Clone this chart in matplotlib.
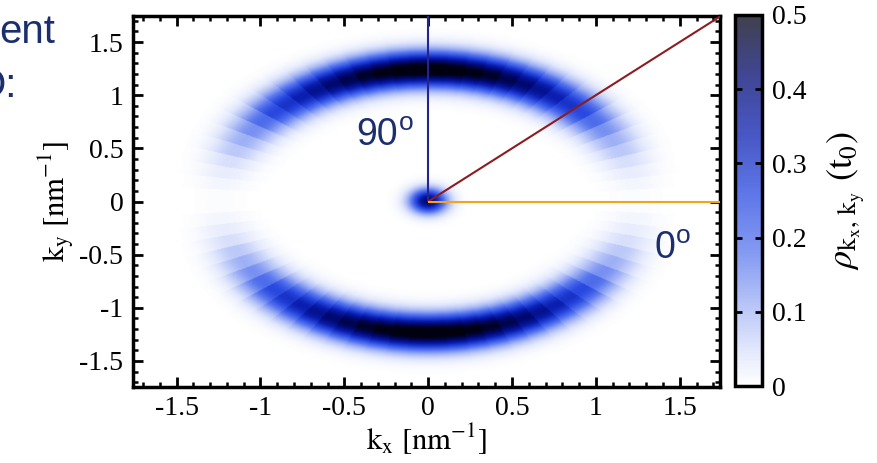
import numpy as np
import matplotlib
matplotlib.use("Agg")
import matplotlib.pyplot as plt
from matplotlib.colors import LinearSegmentedColormap, Normalize
from matplotlib.ticker import MultipleLocator

# --- axis ticks -------------------------------------------------------------
kx_ticks = [-1.5, -1, -0.5, 0, 0.5, 1, 1.5]
ky_ticks = [-1.5, -1, -0.5, 0, 0.5, 1, 1.5]
kx_tick_labels = ["-1.5", "-1", "-0.5", "0", "0.5", "1", "1.5"]
ky_tick_labels = ["-1.5", "-1", "-0.5", "0", "0.5", "1", "1.5"]
cbar_ticks = [0, 0.1, 0.2, 0.3, 0.4, 0.5]
cbar_tick_labels = ["0", "0.1", "0.2", "0.3", "0.4", "0.5"]
kx_range = (-1.76, 1.74)
ky_range = (-1.74, 1.74)

# --- ring density: amplitude per 5-degree angular sector (0..90 deg, mirrored)
sector_edges_deg = [0, 5, 10, 15, 20, 25, 30, 35, 40, 45,
                    50, 55, 60, 65, 70, 75, 80, 85, 90]
sector_amplitude = [0.005, 0.015, 0.03, 0.05, 0.08, 0.11, 0.15, 0.20, 0.26,
                    0.30, 0.34, 0.38, 0.42, 0.45, 0.48, 0.50, 0.52, 0.53]
ring_radius = 1.24
ring_width = 0.115
spot_amplitude = 0.42
spot_width = (0.075, 0.08)

# --- angle guide lines ------------------------------------------------------
guide_angles_deg = [90, 45, 0]
guide_colors = ["#24248c", "#8c1c20", "#f2a51a"]
angle_labels = ["90", "0"]
angle_label_pos = [(-0.43, 0.53), (1.35, -0.53)]

label_color = "#1b2f6e"

# --- build density map ------------------------------------------------------
nx, ny = 700, 500
kx = np.linspace(kx_range[0], kx_range[1], nx)
ky = np.linspace(ky_range[0], ky_range[1], ny)
KX, KY = np.meshgrid(kx, ky)
R = np.hypot(KX, KY)
ang = np.degrees(np.arctan2(np.abs(KY), np.abs(KX)))
idx = np.clip(np.digitize(ang, sector_edges_deg) - 1, 0, len(sector_amplitude) - 1)
amp = np.asarray(sector_amplitude)[idx]
rho = amp * np.exp(-0.5 * ((R - ring_radius) / ring_width) ** 2)
rho += spot_amplitude * np.exp(-0.5 * ((KX / spot_width[0]) ** 2 + (KY / spot_width[1]) ** 2))

cmap = LinearSegmentedColormap.from_list(
    "ring_blue",
    [(0.0, "#ffffff"), (0.08, "#e0e6fc"), (0.2, "#a8b8f6"), (0.36, "#5a78ee"),
     (0.52, "#2848e0"), (0.68, "#0a1eb0"), (0.84, "#000870"), (1.0, "#000010")])
norm = Normalize(0, 0.5)

# --- figure -----------------------------------------------------------------
fig = plt.figure(figsize=(8.77, 4.63), dpi=100)
plt.rcParams["mathtext.fontset"] = "stix"
serif = "Liberation Serif"
sans = "Liberation Sans"

ax = fig.add_axes([133 / 877, 1 - 386.5 / 463, (720 - 133) / 877, (386.5 - 16.5) / 463])
im = ax.imshow(rho, extent=[kx[0], kx[-1], ky[0], ky[-1]], origin="lower",
               cmap=cmap, norm=norm, aspect="auto", interpolation="bilinear")
ax.set_xlim(*kx_range)
ax.set_ylim(*ky_range)

# guide lines from the origin to the frame
for a, c in zip(guide_angles_deg, guide_colors):
    t = np.radians(a)
    dx, dy = np.cos(t), np.sin(t)
    s = []
    if dx > 1e-9:
        s.append(kx_range[1] / dx)
    if dy > 1e-9:
        s.append(ky_range[1] / dy)
    L = min(s)
    ax.plot([0, L * dx], [0, L * dy], color=c, lw=1.5, solid_capstyle="butt", zorder=3)

for txt, (x, y) in zip(angle_labels, angle_label_pos):
    t = ax.text(x, y, txt, fontsize=27, family=sans, color=label_color,
                ha="left", va="baseline", zorder=4)
    ax.annotate("o", xy=(1, 0), xycoords=t, xytext=(0.5, 16.5), textcoords="offset points",
                fontsize=19, family=sans, color=label_color, ha="left", va="baseline")

ax.set_xticks(kx_ticks)
ax.set_xticklabels(kx_tick_labels, family=serif, fontsize=20)
ax.set_yticks(ky_ticks)
ax.set_yticklabels(ky_tick_labels, family=serif, fontsize=20)
ax.xaxis.set_minor_locator(MultipleLocator(0.1))
ax.yaxis.set_minor_locator(MultipleLocator(0.1))
ax.tick_params(which="both", direction="in", top=True, right=True, color="black")
ax.tick_params(which="major", length=7, width=2, pad=7)
ax.tick_params(which="minor", length=3.5, width=1.8)
for sp in ax.spines.values():
    sp.set_linewidth(2.5)
ax.set_xlabel(r"$\mathrm{k_x\ [nm^{-1}]}$", fontsize=22, labelpad=0)
ax.set_ylabel(r"$\mathrm{k_y\ [nm^{-1}]}$", fontsize=22, labelpad=2)

# colour bar
cax = fig.add_axes([735 / 877, 1 - 386 / 463, (762 - 735) / 877, (386 - 15) / 463])
cb = fig.colorbar(im, cax=cax)
cb.solids.set_alpha(0.75)
cb.set_ticks(cbar_ticks)
cb.set_ticklabels(cbar_tick_labels)
for lab in cax.get_yticklabels():
    lab.set_family(serif)
    lab.set_fontsize(20)
cax.tick_params(direction="in", left=True, right=True, length=5, width=2, pad=7)
cb.outline.set_linewidth(2.5)
cb.set_label(r"$\rho_{\mathrm{k_x,\,k_y}}\ \mathrm{(t_0)}$", fontsize=26, labelpad=14)

# slide heading fragment at the top-left edge
fig.text(55 / 877, 1 - 43 / 463, "ent", fontsize=29, family=sans, color=label_color,
         ha="right", va="baseline")
fig.text(16 / 877, 1 - 97 / 463, "O:", fontsize=29, family=sans, color=label_color,
         ha="right", va="baseline")

fig.savefig("out.png", dpi=100)
